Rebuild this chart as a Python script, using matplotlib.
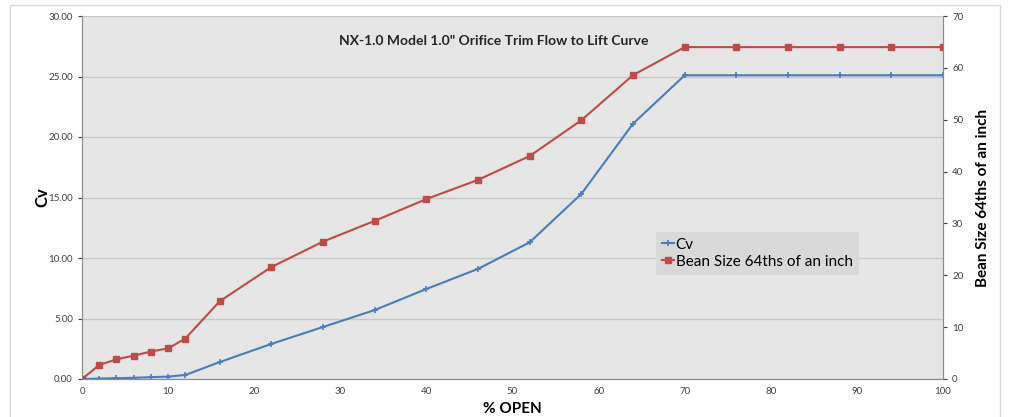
import matplotlib
matplotlib.use("Agg")
import matplotlib.pyplot as plt
from matplotlib.patches import Rectangle

plt.rcParams["font.family"] = ["Lato", "DejaVu Sans"]

# -- Data --------------------------------------------------
pct_open = [0, 2, 4, 6, 8, 10, 12, 16, 22, 28, 34, 40, 46, 52, 58, 64, 70,
            76, 82, 88, 94, 100]
cv = [0.0, 0.04, 0.07, 0.10, 0.15, 0.20, 0.33, 1.40, 2.90, 4.30, 5.70, 7.44,
      9.10, 11.30, 15.30, 21.10, 25.10, 25.10, 25.10, 25.10, 25.10, 25.10]
bean = [0.0, 2.7, 3.8, 4.5, 5.3, 5.9, 7.8, 15.0, 21.6, 26.5, 30.5, 34.7,
        38.4, 43.0, 49.9, 58.6, 64.0, 64.0, 64.0, 64.0, 64.0, 64.0]

blue = "#4a7ebb"
red = "#be4b48"

fig = plt.figure(figsize=(10.12, 4.17), dpi=100)
fig.patches.append(Rectangle((10 / 1012, -0.05), 990 / 1012, 1 - 5 / 417 + 0.05,
                             transform=fig.transFigure, fill=False,
                             edgecolor="#d9d9d9", linewidth=1))
ax = fig.add_axes([82 / 1012, 1 - 379 / 417, (943 - 82) / 1012, (379 - 16) / 417])
ax.set_facecolor("#e6e6e6")
ax2 = ax.twinx()

l1, = ax.plot(pct_open, cv, color=blue, linewidth=1.5, marker="+",
              markersize=4, markeredgewidth=1.2, label="Cv")
l2, = ax2.plot(pct_open, bean, color=red, linewidth=1.5, marker="s",
               markersize=4, label="Bean Size 64ths of an inch")

ax.set_xlim(0, 100)
ax.set_ylim(0, 30)
ax2.set_ylim(0, 70)
ax.set_xticks(range(0, 101, 10))
ax.set_yticks(range(0, 31, 5))
ax.set_yticklabels([f"{v:.2f}" for v in range(0, 31, 5)])
ax2.set_yticks(range(0, 71, 10))
ax.grid(axis="y", color="#c8c8c8", linewidth=1)
ax.set_axisbelow(True)

for a in (ax, ax2):
    a.spines["top"].set_visible(False)
    for s in ("left", "right", "bottom"):
        a.spines[s].set_color("#8c8c8c")
    a.tick_params(labelsize=7, colors="#404040", length=3, width=0.8)
ax.tick_params(axis="x", length=0, pad=6)

ax.set_xlabel("% OPEN", fontsize=11, fontweight="bold", labelpad=4)
ax.set_ylabel("Cv", fontsize=12, fontweight="bold")
ax.yaxis.set_label_coords((50 - 82) / 861, 0.5)
ax2.set_ylabel("Bean Size 64ths of an inch", fontsize=11, fontweight="bold")
ax2.yaxis.set_label_coords((976 - 82) / 861, 0.5)

ax.text(0.478, 0.93, 'NX-1.0 Model 1.0" Orifice Trim Flow to Lift Curve',
        transform=ax.transAxes, ha="center", va="center", fontsize=10,
        fontweight="bold", color="#262626")

leg = ax2.legend(handles=[l1, l2], loc="upper left",
                 bbox_to_anchor=((648 - 82) / 861, (379 - 224) / 363),
                 fontsize=11, frameon=True, fancybox=False, handlelength=0.8,
                 handletextpad=0.1, borderpad=0.4, labelspacing=0.2)
leg.get_frame().set_facecolor("#d9d9d9")
leg.get_frame().set_edgecolor("none")
leg.get_frame().set_alpha(1)

fig.savefig("out.png", dpi=100)
